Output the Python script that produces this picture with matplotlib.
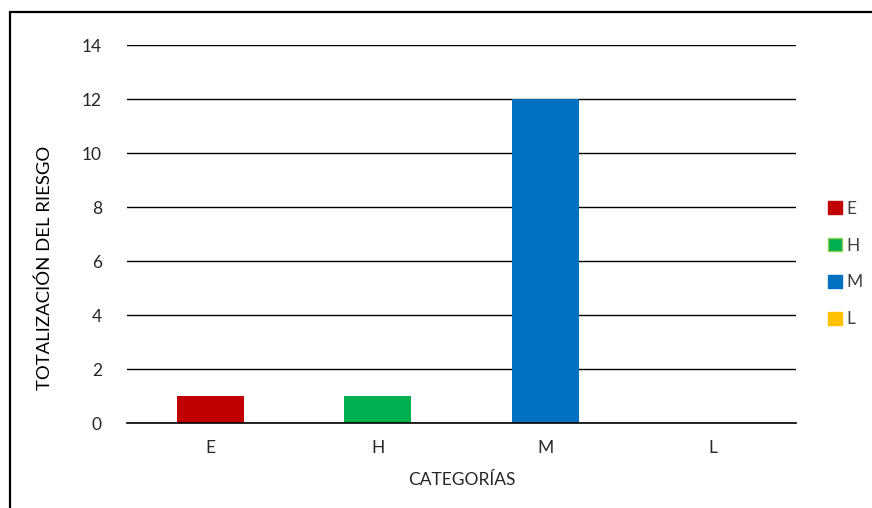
import matplotlib
matplotlib.use("Agg")
import matplotlib.pyplot as plt
from matplotlib.patches import Rectangle, Patch

categories = ["E", "H", "M", "L"]
values = [1, 1, 12, 0]
colors = ["#C00000", "#00B050", "#0070C0", "#FFC000"]
edge_colors = ["#C00000", "#92D050", "#0070C0", "#FFC000"]
y_ticks = [0, 2, 4, 6, 8, 10, 12, 14]

plt.rcParams["font.family"] = ["Lato", "DejaVu Sans"]

W, H = 872, 508
fig = plt.figure(figsize=(W / 100, H / 100), dpi=100)

# chart frame (open at the right and bottom edges of the canvas)
fig.patches.append(Rectangle((10 / W, -0.05), 1.1, (H - 12) / H + 0.05,
                             transform=fig.transFigure, fill=False,
                             edgecolor="#000000", linewidth=1.6, zorder=0))

ax = fig.add_axes([127 / W, (H - 423) / H, (796 - 127) / W, (423 - 45) / H])
x = list(range(len(categories)))
ax.bar(x, values, width=0.4, color=colors, zorder=3)
ax.set_xlim(-0.5, len(categories) - 0.5)
ax.set_ylim(0, 14)
ax.set_yticks(y_ticks)
ax.set_xticks(x)
ax.set_xticklabels(categories)
ax.grid(axis="y", color="#000000", linewidth=1.0, zorder=0)
for s in ["top", "right", "left"]:
    ax.spines[s].set_visible(False)
ax.spines["bottom"].set_color("#000000")
ax.spines["bottom"].set_linewidth(1.2)
ax.spines["bottom"].set_zorder(4)
ax.tick_params(axis="both", length=0, labelsize=12.5, colors="#262626")
ax.tick_params(axis="y", pad=18)
ax.tick_params(axis="x", pad=12)

fig.text(45 / W, (H - 268) / H, "TOTALIZACIÓN DEL RIESGO", rotation=90,
         fontsize=13.3, color="#000000", ha="center", va="center")
ax.set_xlabel("CATEGORÍAS", fontsize=12.5, color="#262626", labelpad=12)

handles = [Patch(facecolor=c, edgecolor=e, label=l)
           for c, e, l in zip(colors, edge_colors, categories)]
leg = fig.legend(handles=handles, loc="center left",
                 bbox_to_anchor=(812 / W, (H - 264) / H), frameon=False,
                 fontsize=12.5, handlelength=0.8, handleheight=0.8,
                 handletextpad=0.3, labelspacing=1.2)
for t in leg.get_texts():
    t.set_color("#404040")

fig.savefig("out.png", dpi=100)
